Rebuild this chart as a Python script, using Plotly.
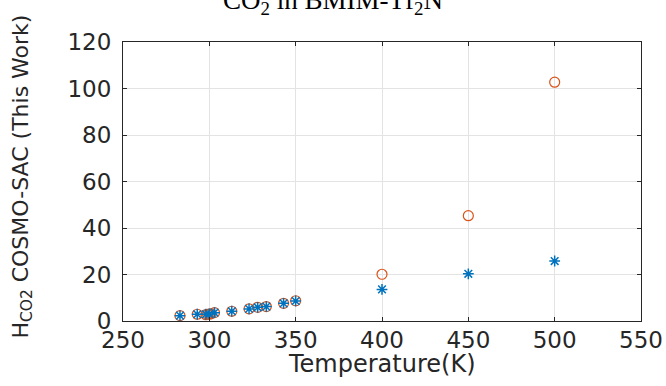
import plotly.graph_objects as go

# Data
T_star = [283, 293, 298, 300, 303, 313, 323, 328, 333, 343, 350, 400, 450, 500]
H_star = [2.3, 2.9, 2.9, 3.0, 3.6, 4.2, 5.2, 5.9, 6.2, 7.6, 8.6, 13.6, 20.3, 25.8]
T_circ = [283, 293, 298, 299, 300, 301, 303, 313, 323, 328, 333, 343, 350, 400, 450, 500]
H_circ = [2.3, 2.9, 2.7, 2.9, 3.0, 3.1, 3.6, 4.2, 5.2, 5.9, 6.2, 7.6, 8.7, 20.1, 45.3, 102.7]

x_ticks = [250, 300, 350, 400, 450, 500, 550]
y_ticks = [0, 20, 40, 60, 80, 100, 120]

SANS = "DejaVu Sans"
TXT = "#262626"

fig = go.Figure()
fig.add_trace(go.Scatter(x=T_circ, y=H_circ, mode="markers",
                         marker=dict(symbol="circle-open", size=10, color="#D95319",
                                     line=dict(width=1.2, color="#D95319")),
                         showlegend=False))
fig.add_trace(go.Scatter(x=T_star, y=H_star, mode="markers",
                         marker=dict(symbol="asterisk-open", size=9, color="#0072BD",
                                     line=dict(width=1.5, color="#0072BD")),
                         showlegend=False))

axis_common = dict(showgrid=True, gridcolor="#e3e3e3", gridwidth=1,
                   showline=True, linecolor=TXT, linewidth=1, mirror="ticks",
                   ticks="inside", ticklen=4, tickcolor=TXT, automargin=False,
                   zeroline=False, tickfont=dict(family=SANS, size=23, color=TXT))

fig.update_xaxes(range=[250, 550], tickvals=x_ticks, ticktext=[str(v) for v in x_ticks],
                 ticklabelstandoff=-2, **axis_common)
fig.update_yaxes(range=[0, 120], tickvals=y_ticks, ticktext=[str(v) for v in y_ticks],
                 ticklabelstandoff=6, **axis_common)

# axis titles
fig.add_annotation(text="Temperature(K)", xref="paper", yref="paper", x=0.5, y=0,
                   xanchor="center", yanchor="top", yshift=-27, showarrow=False,
                   font=dict(family=SANS, size=24, color=TXT))
fig.add_annotation(text="H<sub>CO2</sub> COSMO-SAC (This Work)", xref="paper", yref="paper",
                   x=0, y=0.5, xanchor="center", yanchor="middle", xshift=-101, yshift=5,
                   textangle=-90, showarrow=False,
                   font=dict(family=SANS, size=22, color=TXT))

fig.add_annotation(text="CO<sub>2</sub> in BMIM-Tf<sub>2</sub>N", xref="paper", yref="paper",
                   x=(333 - 123) / 518, y=1.0, xanchor="center", yanchor="bottom", yshift=21,
                   showarrow=False, font=dict(family="Liberation Serif, Times New Roman", size=27, color="black"))

fig.update_layout(width=666, height=386, margin=dict(l=123, r=25, t=42, b=65, autoexpand=False),
                  plot_bgcolor="white", paper_bgcolor="white")

fig.write_html("out.html")
